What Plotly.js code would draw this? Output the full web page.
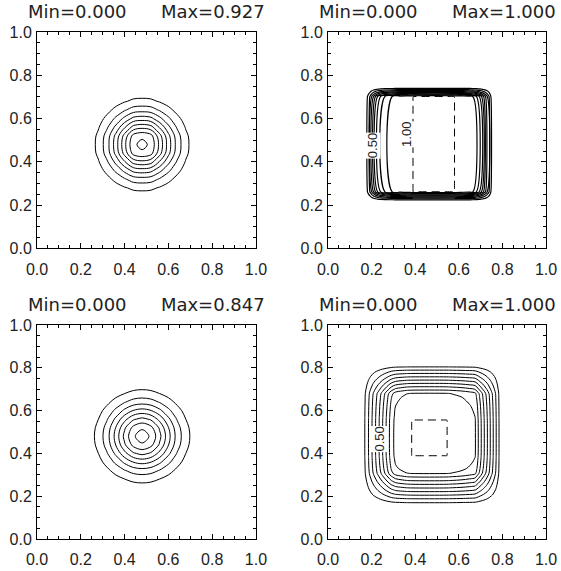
<!DOCTYPE html>
<html><head><meta charset="utf-8">
<script src="https://cdn.plot.ly/plotly-3.0.1.min.js"></script>
<style>html,body{margin:0;padding:0;background:#fff}#chart{width:561px;height:571px}</style>
</head><body><div id="chart"></div>
<script>
// ---- data ----
const panelMin = ["0.000", "0.000", "0.000", "0.000"];
const panelMax = ["0.927", "1.000", "0.847", "1.000"];
const tickVals = [0, 0.2, 0.4, 0.6, 0.8, 1.0];
const tickText = ["0.0", "0.2", "0.4", "0.6", "0.8", "1.0"];
const minorTickVals = [0.05, 0.1, 0.15, 0.25, 0.3, 0.35, 0.45, 0.5, 0.55, 0.65, 0.7, 0.75, 0.85, 0.9, 0.95];
const contourLevels = [0.1, 0.2, 0.3, 0.4, 0.5, 0.6, 0.7, 0.8, 0.9];
const dashedLevel = 1.0;

// panel 1 & 3: separable bumps sampled on a 0.04 grid (same profile in x and y)
const bumpGrid = [0, 0.04, 0.08, 0.12, 0.16, 0.2, 0.24, 0.28, 0.32, 0.36, 0.4, 0.44, 0.48,
  0.52, 0.56, 0.6, 0.64, 0.68, 0.72, 0.76, 0.8, 0.84, 0.88, 0.92, 0.96, 1.0];
const bumpProfile1 = [0, 0, 0, 0.001, 0.006, 0.019, 0.054, 0.130, 0.268, 0.469, 0.699, 0.915, 0.963,
  0.915, 0.699, 0.469, 0.268, 0.130, 0.054, 0.019, 0.006, 0.001, 0, 0, 0, 0];
const bumpProfile3 = [0, 0, 0, 0.002, 0.008, 0.025, 0.064, 0.145, 0.282, 0.473, 0.684, 0.855, 0.9203,
  0.855, 0.684, 0.473, 0.282, 0.145, 0.064, 0.025, 0.008, 0.002, 0, 0, 0, 0];

// panel 2: box (x and y profiles on their own knots)
const boxX2 = [0, 0.17, 0.182, 0.193, 0.201, 0.209, 0.218, 0.228, 0.242, 0.262, 0.295, 0.33, 0.36, 0.385, 0.39,
  0.58, 0.585, 0.62, 0.645, 0.664, 0.68, 0.695, 0.71, 0.72, 0.73, 0.738, 0.746, 0.755, 0.765, 1];
const boxVx2 = [0, 0, 0.11, 0.21, 0.31, 0.41, 0.51, 0.61, 0.71, 0.81, 0.905, 0.95, 0.98, 0.99, 1,
  1, 0.99, 0.96, 0.93, 0.905, 0.81, 0.69, 0.54, 0.43, 0.31, 0.21, 0.11, 0.03, 0, 0];
const boxY2 = [0, 0.219, 0.230, 0.241, 0.252, 0.262, 0.702, 0.712, 0.723, 0.734, 0.745, 1];
const boxVy2 = [0, 0, 0.2, 0.45, 0.72, 1, 1, 0.72, 0.45, 0.2, 0, 0];

// panel 4: smoothed box
const boxX4 = [0, 0.13, 0.15, 0.17, 0.19, 0.21, 0.23, 0.25, 0.27, 0.29, 0.31, 0.34, 0.36, 0.385, 0.545,
  0.57, 0.61, 0.65, 0.675, 0.69, 0.71, 0.73, 0.75, 0.77, 0.785, 0.80, 0.82, 0.84, 1];
const boxVx4 = [0, 0, 0.02, 0.105, 0.225, 0.35, 0.47, 0.595, 0.72, 0.85, 0.93, 0.97, 0.99, 1, 1,
  0.99, 0.97, 0.935, 0.905, 0.79, 0.645, 0.505, 0.355, 0.21, 0.095, 0.03, 0.005, 0, 0];
const boxY4 = [0, 0.13, 0.15, 0.171, 0.19, 0.21, 0.23, 0.25, 0.27, 0.29, 0.307, 0.33, 0.36, 0.375, 0.39,
  0.555, 0.58, 0.62, 0.66, 0.68, 0.70, 0.72, 0.74, 0.76, 0.78, 0.805, 0.82, 0.84, 0.86, 1];
const boxVy4 = [0, 0, 0.02, 0.105, 0.21, 0.33, 0.45, 0.565, 0.685, 0.80, 0.905, 0.95, 0.98, 0.99, 1,
  1, 0.99, 0.97, 0.935, 0.905, 0.77, 0.645, 0.515, 0.385, 0.26, 0.095, 0.035, 0.005, 0, 0];

// contour labels
const labelText = ["0.50", "1.00", "0.50"];
const labelPanel = [2, 2, 4];
const labelX = [0.202, 0.362, 0.234];
const labelY = [0.473, 0.529, 0.465];

// ---- build ----
function outer(px, py) { return py.map(b => px.map(a => a * b)); }
const panels = [
  {x: bumpGrid, y: bumpGrid, z: outer(bumpProfile1, bumpProfile1), dashed: false, w: 1},
  {x: boxX2, y: boxY2, z: outer(boxVx2, boxVy2), dashed: true, w: 1.2},
  {x: bumpGrid, y: bumpGrid, z: outer(bumpProfile3, bumpProfile3), dashed: false, w: 1},
  {x: boxX4, y: boxY4, z: outer(boxVx4, boxVy4), dashed: true, w: 1}
];
const black = [[0, '#000'], [1, '#000']];
const traces = [];
panels.forEach((p, i) => {
  const ax = i === 0 ? '' : String(i + 1);
  traces.push({
    type: 'contour', x: p.x, y: p.y, z: p.z, xaxis: 'x' + ax, yaxis: 'y' + ax,
    autocontour: false,
    contours: {coloring: 'lines', start: contourLevels[0], end: contourLevels[contourLevels.length - 1] + 0.05,
      size: contourLevels[1] - contourLevels[0], showlabels: false},
    line: {width: p.w, smoothing: 1}, colorscale: black, showscale: false, hoverinfo: 'skip'
  });
  if (p.dashed) {
    traces.push({
      type: 'contour', x: p.x, y: p.y, z: p.z, xaxis: 'x' + ax, yaxis: 'y' + ax,
      autocontour: false,
      contours: {coloring: 'lines', start: dashedLevel - 0.0005, end: dashedLevel - 0.0005, size: 0.1, showlabels: false},
      line: {width: 1, smoothing: 0, dash: '8px,5px'}, colorscale: black, showscale: false, hoverinfo: 'skip'
    });
  }
});

const xDom = [[0.066, 0.4563], [0.5847, 0.9733]];
const yDom = [[0.5648, 0.944], [0.056, 0.4308]];
const tickFont = {family: 'Liberation Sans, Arial, sans-serif', size: 16, color: '#222'};
function axis(dom, anchor, standoff) {
  return {
    domain: dom, anchor: anchor, range: [0, 1], tickvals: tickVals, ticktext: tickText,
    ticks: 'inside', ticklen: 5, tickwidth: 1, tickcolor: '#000', ticklabelstandoff: standoff,
    showline: true, linecolor: '#000', linewidth: 1, mirror: 'ticks',
    showgrid: false, zeroline: false, tickfont: tickFont, fixedrange: true,
    minor: {tickvals: minorTickVals, ticks: 'inside', ticklen: 3, tickwidth: 1, tickcolor: '#000', showgrid: false}
  };
}
const layout = {
  width: 561, height: 571, margin: {l: 0, r: 0, t: 0, b: 0},
  paper_bgcolor: '#fff', plot_bgcolor: '#fff', showlegend: false,
  annotations: []
};
for (let i = 0; i < 4; i++) {
  const ax = i === 0 ? '' : String(i + 1);
  const xd = xDom[i % 2], yd = yDom[Math.floor(i / 2)];
  layout['xaxis' + ax] = axis(xd, 'y' + ax, 6);
  layout['yaxis' + ax] = axis(yd, 'x' + ax, 1);
  layout.annotations.push({
    xref: 'paper', yref: 'paper', x: (xd[0] + xd[1]) / 2, y: yd[1] + 0.036,
    xanchor: 'center', yanchor: 'middle', showarrow: false,
    text: 'Min=' + panelMin[i] + '\u00A0\u00A0\u00A0\u00A0\u00A0\u00A0Max=' + panelMax[i],
    font: {family: 'DejaVu Sans, sans-serif', size: 18, color: '#222'}
  });
}
labelText.forEach((t, k) => {
  const ax = labelPanel[k] === 1 ? '' : String(labelPanel[k]);
  layout.annotations.push({
    xref: 'x' + ax, yref: 'y' + ax, x: labelX[k], y: labelY[k], text: t, textangle: -90,
    showarrow: false, bgcolor: '#fff', borderpad: 0,
    font: {family: 'Liberation Sans, Arial, sans-serif', size: 13, color: '#222'}
  });
});
Plotly.newPlot('chart', traces, layout, {staticPlot: true, displayModeBar: false});
</script></body></html>
